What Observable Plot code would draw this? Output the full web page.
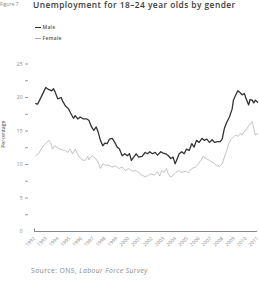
<!DOCTYPE html>
<html>
<head>
<meta charset="utf-8">
<script src="https://cdn.jsdelivr.net/npm/d3@7"></script>
<script src="https://cdn.jsdelivr.net/npm/@observablehq/plot@0.6"></script>
<style>
  body { margin: 0; background: #fff; }
  #fig { position: relative; width: 259px; height: 283px; overflow: hidden; font-family: "Open Sans", Lato, sans-serif; color: #333; }
  #fignum { position: absolute; left: 0; top: 1.5px; font-size: 5px; line-height: 1; color: #888; }
  #title { position: absolute; left: 33px; top: 0.5px; font-size: 8.4px; line-height: 1; font-weight: 600; letter-spacing: 0.45px; color: #3a3a3a; white-space: nowrap; }
  .leg { position: absolute; left: 35px; height: 6px; display: flex; align-items: center; font-size: 5px; font-weight: 600; letter-spacing: 0.3px; color: #555; }
  .leg i { display: inline-block; width: 5.5px; margin-right: 2px; }
  #chart { position: absolute; left: 0; top: 50px; }
  #src { position: absolute; left: 31px; top: 267.5px; font-size: 6.8px; line-height: 1; letter-spacing: 0.4px; color: #888; white-space: nowrap; }
</style>
</head>
<body>
<div id="fig">
  <div id="fignum">Figure 7</div>
  <div id="title">Unemployment for 18–24 year olds by gender</div>
  <div id="legend"></div>
  <div id="chart"></div>
  <div id="src">Source: ONS, <em>Labour Force Survey</em></div>
</div>
<script>
// Unemployment rate (%) of 18–24 year olds, by gender, 1992–2011 (time in decimal years)
const male = [
  [1992.11, 19.1], [1992.26, 19.0], [1992.49, 19.8], [1992.77, 20.8], [1992.96, 21.5],
  [1993.19, 21.2], [1993.47, 21.0], [1993.62, 21.3], [1993.76, 20.8], [1993.98, 19.8],
  [1994.27, 20.0], [1994.39, 19.5], [1994.61, 18.8], [1994.90, 18.3], [1995.04, 17.8],
  [1995.32, 16.9], [1995.47, 17.3], [1995.69, 16.8], [1995.89, 17.1], [1996.17, 16.8],
  [1996.45, 16.8], [1996.63, 16.6], [1996.86, 15.6], [1997.05, 15.1], [1997.26, 15.6],
  [1997.43, 14.8], [1997.62, 13.6], [1997.82, 12.8], [1997.99, 13.2], [1998.19, 13.1],
  [1998.39, 13.8], [1998.62, 13.9], [1998.84, 13.3], [1999.04, 12.6], [1999.24, 12.3],
  [1999.47, 11.3], [1999.69, 11.6], [1999.90, 11.3], [2000.09, 11.6], [2000.26, 10.6],
  [2000.46, 11.1], [2000.66, 11.6], [2000.88, 11.1], [2001.17, 11.2], [2001.43, 11.8],
  [2001.63, 11.6], [2001.82, 11.9], [2002.05, 11.6], [2002.28, 11.8], [2002.48, 11.4],
  [2002.76, 11.9], [2002.96, 11.7], [2003.18, 11.6], [2003.41, 11.3], [2003.61, 10.9],
  [2003.81, 11.1], [2003.98, 10.1], [2004.10, 10.6], [2004.33, 11.6], [2004.55, 11.9],
  [2004.75, 11.6], [2004.95, 12.3], [2005.18, 12.1], [2005.40, 13.1], [2005.60, 12.6],
  [2005.80, 13.6], [2006.03, 13.3], [2006.27, 13.9], [2006.48, 13.6], [2006.68, 13.8],
  [2006.91, 13.3], [2007.14, 13.7], [2007.33, 13.3], [2007.61, 13.4], [2007.82, 13.4],
  [2007.99, 13.8], [2008.18, 15.4], [2008.38, 16.3], [2008.61, 17.1], [2008.84, 18.3],
  [2008.95, 19.6], [2009.12, 20.3], [2009.32, 21.0], [2009.52, 20.7], [2009.69, 20.4],
  [2009.88, 20.6], [2010.03, 19.8], [2010.25, 18.9], [2010.37, 19.7], [2010.54, 19.6],
  [2010.68, 19.2], [2010.82, 19.6], [2011.02, 19.3]
];

const female = [
  [1992.11, 11.3], [1992.34, 11.6], [1992.57, 12.3], [1992.77, 12.8], [1993.05, 13.3],
  [1993.25, 13.6], [1993.42, 13.1], [1993.53, 12.3], [1993.70, 12.8], [1994.04, 12.4],
  [1994.33, 12.2], [1994.61, 12.1], [1994.84, 11.8], [1995.04, 12.3], [1995.24, 11.6],
  [1995.47, 12.3], [1995.75, 11.3], [1996.03, 10.7], [1996.32, 10.6], [1996.54, 11.2],
  [1996.63, 10.7], [1996.91, 11.3], [1997.20, 10.9], [1997.43, 10.3], [1997.62, 9.4],
  [1997.82, 10.1], [1998.05, 9.9], [1998.33, 9.9], [1998.62, 9.6], [1998.90, 9.8],
  [1999.18, 9.4], [1999.47, 9.6], [1999.75, 9.1], [2000.03, 9.4], [2000.32, 9.0],
  [2000.60, 9.1], [2000.88, 8.8], [2001.17, 8.4], [2001.40, 8.2], [2001.63, 8.3],
  [2001.91, 8.6], [2002.20, 8.4], [2002.48, 8.9], [2002.67, 8.3], [2002.84, 9.1],
  [2003.05, 8.8], [2003.24, 9.4], [2003.41, 8.6], [2003.61, 8.1], [2003.81, 8.4],
  [2004.04, 8.8], [2004.27, 9.1], [2004.55, 8.8], [2004.84, 9.0], [2005.12, 8.8],
  [2005.40, 9.4], [2005.69, 9.6], [2005.88, 9.9], [2006.08, 10.4], [2006.25, 10.8],
  [2006.34, 11.2], [2006.63, 10.9], [2006.91, 10.6], [2007.19, 10.3], [2007.48, 9.9],
  [2007.76, 9.7], [2007.99, 10.1], [2008.18, 11.1], [2008.38, 12.1], [2008.55, 13.1],
  [2008.76, 13.8], [2008.95, 14.1], [2009.12, 14.4], [2009.32, 14.2], [2009.52, 14.6],
  [2009.69, 14.4], [2009.88, 14.9], [2010.07, 15.3], [2010.31, 15.9], [2010.54, 16.4],
  [2010.68, 15.4], [2010.82, 14.4], [2011.02, 14.6]
];

const seriesNames = ["Male", "Female"];
const seriesColors = ["#333333", "#a9a9a9"];
const seriesWidths = [1.3, 0.7];
const yearTicks = d3.range(1992, 2012);
const yLabelTicks = [0, 5, 10, 15, 20, 25];
const yMinorTicks = [2.5, 5, 7.5, 10, 12.5, 15, 17.5, 20, 22.5, 25];
const yLabel = "Percentage";

const toRows = pairs => pairs.map(([t, v]) => ({t, v}));
const seriesData = [toRows(male), toRows(female)];

// legend
const legend = document.getElementById("legend");
seriesNames.forEach((name, i) => {
  const item = document.createElement("div");
  item.className = "leg";
  item.style.top = (24.3 + i * 11) + "px";
  const sw = document.createElement("i");
  sw.style.borderTop = `${seriesWidths[i] + 0.2}px solid ${seriesColors[i]}`;
  item.appendChild(sw);
  item.appendChild(document.createTextNode(name));
  legend.appendChild(item);
});

const chart = Plot.plot({
  width: 259,
  height: 210,
  marginLeft: 34,
  marginRight: 2,
  marginTop: 13.5,
  marginBottom: 29,
  style: {fontFamily: "'Open Sans', Lato, sans-serif", fontSize: "5px", color: "#888", background: "transparent"},
  x: {type: "linear", domain: [1992, 2011]},
  y: {domain: [0, 25]},
  marks: [
    Plot.axisY({ticks: yMinorTicks, tickSize: 3, dx: -6, tickFormat: () => "", stroke: "#999", label: null}),
    Plot.axisY({ticks: yLabelTicks, tickSize: 0, tickPadding: 12, tickFormat: "d", fill: "#888", label: null}),
    Plot.text([yLabel], {frameAnchor: "left", rotate: -90, dx: -31.5, fill: "#444", fontSize: 5.2, letterSpacing: "0.3px"}),
    Plot.axisX({ticks: yearTicks, tickSize: 0, tickRotate: -45, tickPadding: 6, tickFormat: "d", fill: "#888", label: null}),
    Plot.axisX({ticks: [yearTicks[0]], tickSize: -2.5, tickFormat: () => "", stroke: "#888", label: null}),
    Plot.ruleY([0], {stroke: "#888", strokeWidth: 1}),
    Plot.line(seriesData[1], {x: "t", y: "v", stroke: seriesColors[1], strokeWidth: seriesWidths[1]}),
    Plot.line(seriesData[0], {x: "t", y: "v", stroke: seriesColors[0], strokeWidth: seriesWidths[0]})
  ]
});
document.getElementById("chart").appendChild(chart);
</script>
</body>
</html>
